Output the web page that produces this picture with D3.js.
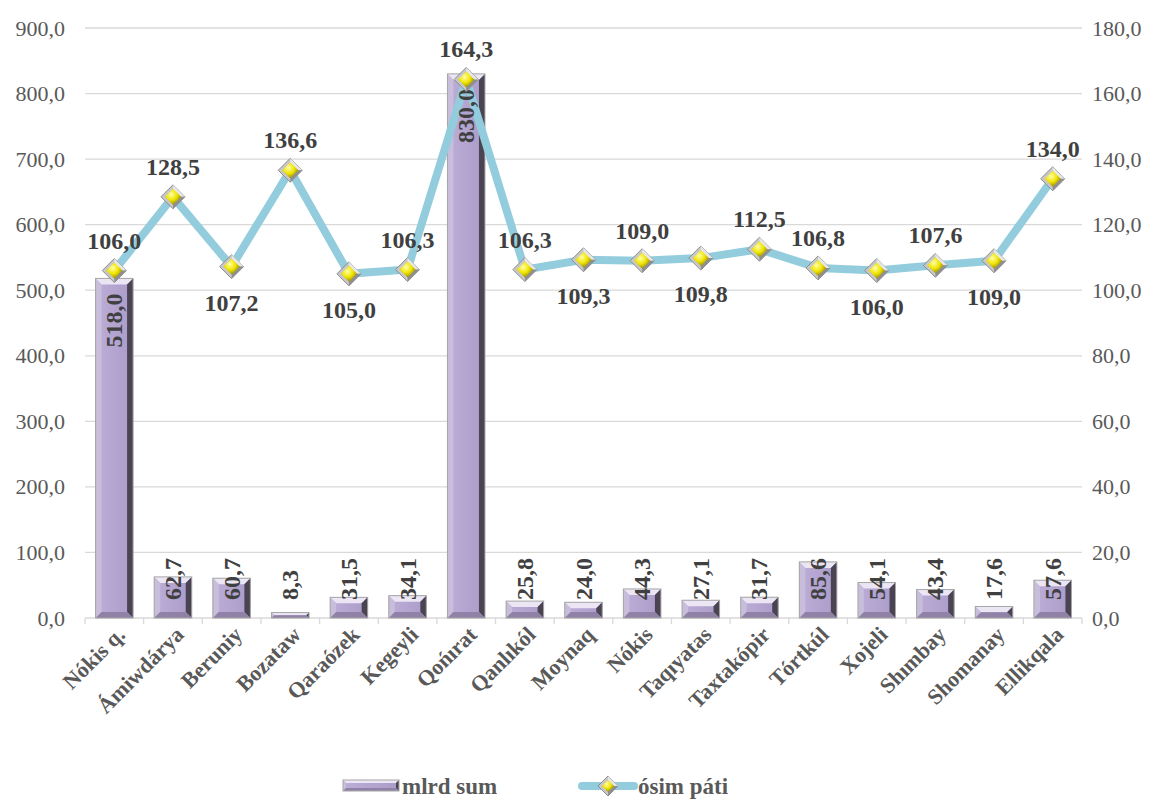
<!DOCTYPE html>
<html>
<head>
<meta charset="utf-8">
<script src="https://cdn.jsdelivr.net/npm/d3@7"></script>
<style>
  body { margin: 0; background: #fff; }
  text { font-family: "Liberation Serif", "Times New Roman", "DejaVu Serif", serif; }
</style>
</head>
<body>
<svg width="1157" height="803"></svg>
<script>
// chart data
var districts = ["Nókis q.", "Ámiwdárya", "Beruniy", "Bozataw", "Qaraózek", "Kegeyli", "Qońırat",
  "Qanlıkól", "Moynaq", "Nókis", "Taqıyatas", "Taxtakópir", "Tórtkúl", "Xojeli", "Shımbay", "Shomanay", "Ellikqala"];
var mlrdSum = [518.0, 62.7, 60.7, 8.3, 31.5, 34.1, 830.0, 25.8, 24.0, 44.3, 27.1, 31.7, 85.6, 54.1, 43.4, 17.6, 57.6];
var osimPati = [106.0, 128.5, 107.2, 136.6, 105.0, 106.3, 164.3, 106.3, 109.3, 109.0, 109.8, 112.5, 106.8, 106.0, 107.6, 109.0, 134.0];
// label above (1) or below (0) the line point
var labelAbove = [1, 1, 0, 1, 0, 1, 1, 1, 0, 1, 0, 1, 1, 0, 1, 0, 1];
var leftTicks = [0, 100, 200, 300, 400, 500, 600, 700, 800, 900];
var rightTicks = [0, 20, 40, 60, 80, 100, 120, 140, 160, 180];

var svg = d3.select("svg"),
    plotL = 85, plotR = 1082, plotT = 28, plotB = 618;
var serif = "Liberation Serif, Times New Roman, DejaVu Serif, serif";

var fmt = function(v) { return v.toFixed(1).replace(".", ","); };

var x = d3.scaleBand().domain(districts).range([plotL, plotR]).paddingInner(0.36).paddingOuter(0.18);
var xc = function(i) { return x(districts[i]) + x.bandwidth() / 2; };
var y = d3.scaleLinear().domain([0, 900]).range([plotB, plotT]);
var y2 = d3.scaleLinear().domain([0, 180]).range([plotB, plotT]);

var defs = svg.append("defs");
var dg = defs.append("radialGradient").attr("id", "diam").attr("cx", "40%").attr("cy", "35%").attr("r", "65%");
dg.append("stop").attr("offset", "0%").attr("stop-color", "#ffffa8");
dg.append("stop").attr("offset", "55%").attr("stop-color", "#f0e400");
dg.append("stop").attr("offset", "100%").attr("stop-color", "#9c9000");
var fg = defs.append("linearGradient").attr("id", "face").attr("x1", 0).attr("x2", 1).attr("y1", 0).attr("y2", 0);
fg.append("stop").attr("offset", "0%").attr("stop-color", "#bcaed8");
fg.append("stop").attr("offset", "100%").attr("stop-color", "#aa9bc8");

// gridlines
svg.append("g").selectAll("line").data(leftTicks.slice(1)).enter().append("line")
    .attr("x1", plotL).attr("x2", plotR)
    .attr("y1", function(d) { return y(d); }).attr("y2", function(d) { return y(d); })
    .attr("stroke", "#d9d9d9").attr("stroke-width", 1.3);

// axes
var axL = svg.append("g").attr("transform", "translate(" + plotL + ",0)")
    .call(d3.axisLeft(y).tickValues(leftTicks).tickFormat(fmt).tickSize(0).tickPadding(20));
var axR = svg.append("g").attr("transform", "translate(" + plotR + ",0)")
    .call(d3.axisRight(y2).tickValues(rightTicks).tickFormat(fmt).tickSize(0).tickPadding(10));
[axL, axR].forEach(function(a) {
  a.attr("font-family", serif);
  a.select(".domain").remove();
  a.selectAll("text").attr("font-size", 22).attr("fill", "#595959");
});

// bottom axis line and category ticks
svg.append("line").attr("x1", plotL).attr("x2", plotR).attr("y1", plotB).attr("y2", plotB)
    .attr("stroke", "#d9d9d9").attr("stroke-width", 1.3);
svg.append("g").selectAll("line").data(d3.range(districts.length + 1)).enter().append("line")
    .attr("x1", function(d) { return plotL + d * (plotR - plotL) / districts.length; })
    .attr("x2", function(d) { return plotL + d * (plotR - plotL) / districts.length; })
    .attr("y1", plotB).attr("y2", plotB + 6)
    .attr("stroke", "#d9d9d9").attr("stroke-width", 1.3);

// bevelled bars
function poly(pts) { return "M" + pts.join("L") + "Z"; }
function bevelBar(g, x0, y0, w, h, b) {
  b = Math.min(b, h / 2, w / 2);
  var x1 = x0 + w, y1 = y0 + h;
  g.append("rect").attr("x", x0).attr("y", y0).attr("width", w).attr("height", h).attr("fill", "url(#face)");
  g.append("path").attr("d", poly([[x0, y0], [x1, y0], [x1 - b, y0 + b], [x0 + b, y0 + b]])).attr("fill", "#ece6f4");
  g.append("path").attr("d", poly([[x0, y0], [x0 + b, y0 + b], [x0 + b, y1 - b], [x0, y1]])).attr("fill", "#c8bedb");
  g.append("path").attr("d", poly([[x1, y0], [x1, y1], [x1 - b, y1 - b], [x1 - b, y0 + b]])).attr("fill", "#4a4452");
  g.append("path").attr("d", poly([[x0, y1], [x0 + b, y1 - b], [x1 - b, y1 - b], [x1, y1]])).attr("fill", "#8f82a6");
  g.append("rect").attr("x", x0).attr("y", y0).attr("width", w).attr("height", h)
    .attr("fill", "none").attr("stroke", "#a6a6a6").attr("stroke-width", 1);
}

var bars = svg.append("g");
mlrdSum.forEach(function(v, i) {
  bevelBar(bars, x(districts[i]), y(v), x.bandwidth(), plotB - y(v), 6);
});

// line series
var line = d3.line().x(function(d, i) { return xc(i); }).y(function(d) { return y2(d); });
svg.append("path").datum(osimPati).attr("d", line)
    .attr("fill", "none").attr("stroke", "#93cddd").attr("stroke-width", 8).attr("stroke-linejoin", "round");

// bar labels (rotated)
var barLabels = svg.append("g");
mlrdSum.forEach(function(v, i) {
  var t = barLabels.append("text").text(fmt(v))
      .attr("font-family", serif)
      .attr("font-size", 24).attr("font-weight", "bold").attr("fill", "#404040")
      .attr("dominant-baseline", "central");
  var len = t.node().getComputedTextLength();
  var bot = Math.min(y(v) + 15 + len, plotB - 18);
  t.attr("transform", "translate(" + xc(i) + "," + bot + ") rotate(-90)");
});

// markers
function diamond(g, cx, cy, r) {
  g.append("path").attr("d", poly([[cx, cy - r], [cx + r, cy], [cx, cy + r], [cx - r, cy]]))
    .attr("fill", "#c8c8c8").attr("stroke", "#8c8c8c").attr("stroke-width", 1);
  g.append("path").attr("d", poly([[cx, cy - r], [cx + r, cy], [cx, cy]])).attr("fill", "#e6e6e6");
  g.append("path").attr("d", poly([[cx, cy + r], [cx + r, cy], [cx, cy]])).attr("fill", "#8f8f8f");
  var s = r - 4;
  g.append("path").attr("d", poly([[cx, cy - s], [cx + s, cy], [cx, cy + s], [cx - s, cy]]))
    .attr("fill", "url(#diam)");
}
var marks = svg.append("g");
osimPati.forEach(function(v, i) { diamond(marks, xc(i), y2(v), 12); });

// line labels
svg.append("g").selectAll("text").data(osimPati).enter().append("text")
    .attr("x", function(d, i) { return xc(i); })
    .attr("y", function(d, i) { return labelAbove[i] ? y2(d) - 22 : y2(d) + 44; })
    .attr("text-anchor", "middle").attr("font-family", serif)
    .attr("font-size", 24).attr("font-weight", "bold").attr("fill", "#404040")
    .text(fmt);

// category labels
svg.append("g").selectAll("text").data(districts).enter().append("text")
    .attr("transform", function(d, i) { return "translate(" + (xc(i) + 12) + "," + (plotB + 18) + ") rotate(-45)"; })
    .attr("text-anchor", "end").attr("font-family", serif)
    .attr("font-size", 22).attr("font-weight", "bold").attr("fill", "#595959")
    .text(function(d) { return d; });

// legend
var lg = svg.append("g").attr("font-family", serif);
bevelBar(lg, 343, 780, 56, 11, 3);
lg.append("text").attr("x", 402).attr("y", 794).attr("font-size", 23).attr("font-weight", "bold").attr("fill", "#595959").text("mlrd sum");
lg.append("line").attr("x1", 582).attr("x2", 634).attr("y1", 786).attr("y2", 786)
    .attr("stroke", "#93cddd").attr("stroke-width", 8).attr("stroke-linecap", "round");
diamond(lg, 608, 786, 10);
lg.append("text").attr("x", 638).attr("y", 794).attr("font-size", 23).attr("font-weight", "bold").attr("fill", "#595959").text("ósim páti");
</script>
</body>
</html>
